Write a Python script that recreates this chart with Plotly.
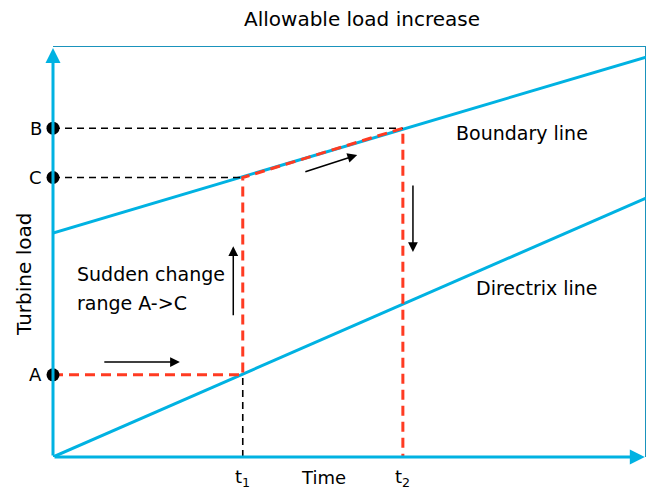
import plotly.graph_objects as go

# ---- data (chart units) ----
time_range = [0, 10]
load_range = [0, 10]
t1 = 3.2
t2 = 5.9
load_A = 2.0
load_C = 6.8
load_B = 8.0
boundary_x = [0, 10]
boundary_y = [5.45, 9.73]
directrix_x = [0, 10]
directrix_y = [0, 6.3]
point_labels = ["A", "C", "B"]
point_loads = [load_A, load_C, load_B]
tick_labels = ["t<sub>1</sub>", "t<sub>2</sub>"]
tick_times = [t1, t2]

CYAN = "#00B2E2"
BORDER = "#1A93BC"
RED = "#FF3B22"
FONT = "DejaVu Sans"

fig = go.Figure()

# frame (top and right)
fig.add_trace(go.Scatter(x=[0, 10, 10], y=[10, 10, 0], mode="lines",
                         line=dict(color=BORDER, width=2), cliponaxis=False,
                         hoverinfo="skip"))
# boundary and directrix lines
fig.add_trace(go.Scatter(x=boundary_x, y=boundary_y, mode="lines",
                         line=dict(color=CYAN, width=3), cliponaxis=False))
fig.add_trace(go.Scatter(x=directrix_x, y=directrix_y, mode="lines",
                         line=dict(color=CYAN, width=3), cliponaxis=False))
# black guide dashes
blk = dict(color="black", width=1.6, dash="7px,5px")
fig.add_trace(go.Scatter(x=[0, t2], y=[load_B, load_B], mode="lines", line=blk))
fig.add_trace(go.Scatter(x=[0, t1], y=[load_C, load_C], mode="lines", line=blk))
fig.add_trace(go.Scatter(x=[t1, t1], y=[0, load_A], mode="lines", line=blk))
# red operating path
fig.add_trace(go.Scatter(x=[0, t1, t1, t2, t2], y=[load_A, load_A, load_C, load_B, 0],
                         mode="lines", line=dict(color=RED, width=3, dash="10px,6px"),
                         cliponaxis=False))
# points
fig.add_trace(go.Scatter(x=[0] * len(point_loads), y=point_loads, mode="markers",
                         marker=dict(color="black", size=13), cliponaxis=False))

anns = []
# axes with arrowheads
anns.append(dict(x=0, y=9.95, ax=0, ay=0, xref="x", yref="y", axref="x", ayref="y",
                 showarrow=True, arrowhead=2, arrowsize=1, arrowwidth=3,
                 arrowcolor=CYAN, standoff=0, startstandoff=0, text=""))
anns.append(dict(x=9.98, y=0, ax=0, ay=0, xref="x", yref="y", axref="x", ayref="y",
                 showarrow=True, arrowhead=2, arrowsize=1, arrowwidth=3,
                 arrowcolor=CYAN, standoff=0, startstandoff=0, text=""))
# black motion arrows
for (x0, y0, x1, y1) in [(0.84, 2.31, 2.14, 2.31), (3.04, 3.41, 3.04, 5.13),
                         (4.23, 6.93, 5.13, 7.35), (6.07, 6.64, 6.07, 4.99)]:
    anns.append(dict(x=x1, y=y1, ax=x0, ay=y0, xref="x", yref="y", axref="x", ayref="y",
                     showarrow=True, arrowhead=2, arrowsize=1.3, arrowwidth=1.5,
                     arrowcolor="black", standoff=0, text=""))
# point labels
for lab, val in zip(point_labels, point_loads):
    anns.append(dict(x=0, y=val, xref="x", yref="y", text=lab, showarrow=False,
                     xanchor="right", xshift=-9, font=dict(family=FONT, size=18, color="black")))
# tick labels
for lab, t in zip(tick_labels, tick_times):
    anns.append(dict(x=t, y=0, xref="x", yref="y", text=lab, showarrow=False,
                     yanchor="top", yshift=-7, font=dict(family=FONT, size=18, color="black")))
txt = dict(family=FONT, size=19, color="black")
anns += [
    dict(x=4.56, y=0, xref="x", yref="y", text="Time", showarrow=False,
         yanchor="top", yshift=-8, font=dict(family=FONT, size=18, color="black")),
    dict(x=0.37, y=4.45, xref="x", yref="y", text="Sudden change", showarrow=False,
         xanchor="left", font=txt),
    dict(x=0.37, y=3.75, xref="x", yref="y", text="range A->C", showarrow=False,
         xanchor="left", font=txt),
    dict(x=7.91, y=7.88, xref="x", yref="y", text="Boundary line", showarrow=False, font=txt),
    dict(x=8.16, y=4.11, xref="x", yref="y", text="Directrix line", showarrow=False, font=txt),
    dict(x=-29 / 593, y=(457 - 275) / 411, xref="paper", yref="paper", text="Turbine load",
         showarrow=False, textangle=-90, xanchor="center", yanchor="middle",
         font=dict(family=FONT, size=20, color="black")),
    dict(x=(362 - 53) / 593, y=1, xref="paper", yref="paper", text="Allowable load increase",
         showarrow=False, xanchor="center", yanchor="bottom", yshift=13,
         font=dict(family=FONT, size=20, color="black")),
]

fig.update_layout(
    width=654, height=491,
    margin=dict(l=53, r=8, t=46, b=34),
    paper_bgcolor="white", plot_bgcolor="white",
    showlegend=False,
    xaxis=dict(range=time_range, visible=False, fixedrange=True),
    yaxis=dict(range=load_range, visible=False, fixedrange=True),
    annotations=anns,
)

fig.write_html("out.html", config={"displayModeBar": False},
               post_script="document.body.style.margin='0';document.body.style.overflow='hidden';")
